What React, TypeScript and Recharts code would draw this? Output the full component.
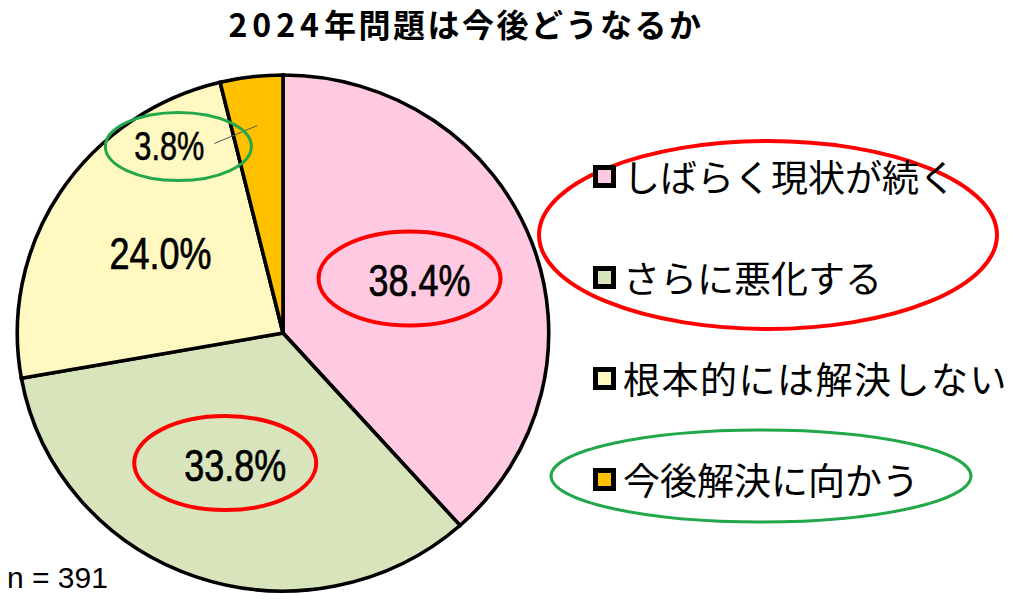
import { PieChart, Pie, Cell, Legend } from "recharts";

// answers, in order clockwise from 12 o'clock
const categories = ["しばらく現状が続く", "さらに悪化する", "根本的には解決しない", "今後解決に向かう"];
const shares = [38.4, 33.8, 24.0, 3.8];
const colors = ["#FFC9E2", "#D8E4BC", "#FFF9C1", "#FFC000"];
const redMarked = [0, 1];
const greenMarked = [3];
const title = "2024年問題は今後どうなるか";
const sampleNote = "n = 391";

const data = categories.map((name, i) => ({ name, value: shares[i], fill: colors[i] }));

const RAD = Math.PI / 180;
const SX = 1.03; // the original pie is a little wider than tall
const RED = "#FF0000";
const GREEN = "#22A84A";

function SliceLabel(props: any) {
  const { cx, cy, midAngle, outerRadius, index } = props;
  const txt = `${shares[index].toFixed(1)}%`;
  const cos = Math.cos(-midAngle * RAD);
  const sin = Math.sin(-midAngle * RAD);

  if (shares[index] < 10) {
    // small slice: label sits outside with a leader line
    const ex = cx + outerRadius * 0.81 * cos * SX;
    const ey = cy + outerRadius * 0.81 * sin;
    const x = ex - 88;
    const y = ey + 20;
    return (
      <g>
        <line x1={x + 45} y1={y - 2} x2={ex} y2={ey} stroke="#555" strokeWidth={1} />
        <text x={x} y={y} textAnchor="middle" dominantBaseline="central" fontFamily="Liberation Sans, Arial, sans-serif"
          fontSize={40} fill="#000" stroke="#000" strokeWidth={0.6} textLength={70} lengthAdjust="spacingAndGlyphs">{txt}</text>
        {greenMarked.includes(index) && (
          <ellipse cx={x + 9} cy={y + 1} rx={73} ry={34} fill="none" stroke={GREEN} strokeWidth={3} />
        )}
      </g>
    );
  }

  const r = outerRadius * 0.55;
  const x = cx + r * cos * SX;
  const y = cy + r * sin;
  return (
    <g>
      <text x={x} y={y - 2} textAnchor="middle" dominantBaseline="central" fontFamily="Liberation Sans, Arial, sans-serif"
        fontSize={44} fill="#000" stroke="#000" strokeWidth={0.7} textLength={102} lengthAdjust="spacingAndGlyphs">{txt}</text>
      {redMarked.includes(index) && (
        <ellipse cx={x - 10} cy={y - 4} rx={91} ry={47} fill="none" stroke={RED} strokeWidth={4} />
      )}
    </g>
  );
}

function LegendBox({ payload }: any) {
  const list = payload && payload.length ? payload : [];
  const items = categories.map((c) => list.find((p: any) => p.value === c) || { value: c });
  return (
    <div style={{ position: "relative", width: 494, height: 420 }}>
      <svg width={494} height={420} style={{ position: "absolute", left: 0, top: 0, overflow: "visible" }}>
        <ellipse cx={238} cy={105} rx={229} ry={94} fill="none" stroke={RED} strokeWidth={4} />
        <ellipse cx={231} cy={346} rx={210} ry={46} fill="none" stroke={GREEN} strokeWidth={3} />
      </svg>
      {items.map((p: any, i: number) => (
        <div key={i} style={{ position: "absolute", left: 63, top: 48 + 101 * i - 27, height: 50, display: "flex", alignItems: "center" }}>
          <span style={{ display: "inline-block", width: 13, height: 13, border: "5px solid #000", background: colors[i] }} />
          <span style={{ marginLeft: 7, fontSize: 37, fontFamily: "Noto Sans CJK JP", color: "#000", whiteSpace: "nowrap",
            lineHeight: "50px", letterSpacing: i === 2 ? 1.5 : 0 }}>
            {p.value}
          </span>
        </div>
      ))}
    </div>
  );
}

export default function App() {
  return (
    <div style={{ position: "relative", width: 1024, height: 608, background: "#fff", overflow: "hidden" }}>
      <style>{`body{margin:0} path.recharts-sector{transform:scaleX(${SX});transform-origin:283px 333px}`}</style>
      <div style={{ position: "absolute", left: 0, top: 0, width: 932, textAlign: "center", fontFamily: "Noto Sans CJK JP",
        fontWeight: 700, fontSize: 32, lineHeight: "47px", color: "#000", whiteSpace: "nowrap" }}>
        <span style={{ letterSpacing: 5 }}>{title.slice(0, 4)}</span>
        <span style={{ letterSpacing: 2.5 }}>{title.slice(4)}</span>
      </div>
      <PieChart width={1024} height={608} margin={{ top: 0, right: 0, bottom: 0, left: 0 }}>
        <Pie
          data={data}
          dataKey="value"
          nameKey="name"
          cx={283}
          cy={333}
          outerRadius={258}
          startAngle={90}
          endAngle={-270}
          stroke="#000"
          strokeWidth={3.5}
          label={SliceLabel}
          labelLine={false}
          isAnimationActive={false}
        >
          {data.map((d, i) => (
            <Cell key={d.name} fill={colors[i]} />
          ))}
        </Pie>
        <Legend
          layout="vertical"
          align="right"
          verticalAlign="middle"
          content={LegendBox}
          wrapperStyle={{ left: 530, top: 130, width: 494, height: 420 }}
        />
      </PieChart>
      <div style={{ position: "absolute", left: 7, top: 561, fontFamily: "Liberation Sans, Arial, sans-serif", fontSize: 30,
        lineHeight: "34px", color: "#000" }}>
        {sampleNote}
      </div>
    </div>
  );
}
